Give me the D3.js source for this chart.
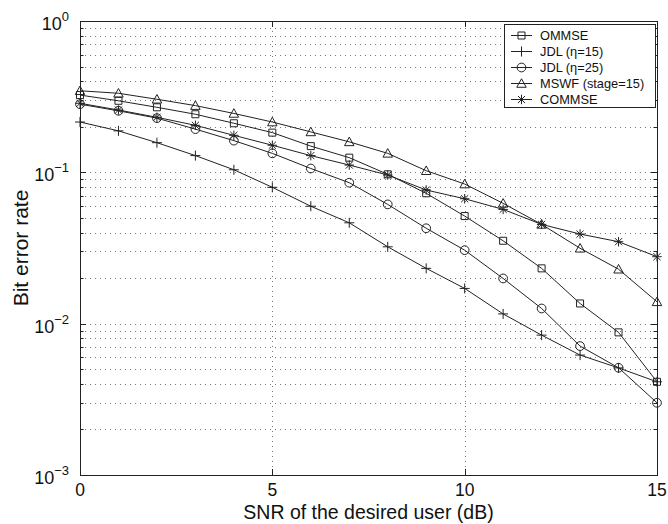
<!DOCTYPE html>
<html>
<head>
<meta charset="utf-8">
<script src="https://cdn.jsdelivr.net/npm/d3@7"></script>
<style>
  html, body { margin: 0; padding: 0; background: #fff; }
  svg { display: block; font-family: "Liberation Sans", Arial, Helvetica, sans-serif; }
</style>
</head>
<body>
<svg id="chart" width="668" height="524"></svg>
<script>
// SNR values (dB)
const snr = [0, 1, 2, 3, 4, 5, 6, 7, 8, 9, 10, 11, 12, 13, 14, 15];

// Bit error rate for each receiver
const ommse   = [0.324, 0.297, 0.269, 0.242, 0.211, 0.183, 0.149, 0.125, 0.097, 0.0727, 0.0514, 0.0353, 0.0232, 0.0136, 0.00876, 0.00413];
const jdl15   = [0.215, 0.188, 0.157, 0.129, 0.104, 0.0796, 0.0597, 0.0464, 0.0322, 0.0232, 0.0171, 0.0116, 0.0084, 0.0062, 0.0051, 0.00413];
const jdl25   = [0.282, 0.255, 0.228, 0.193, 0.162, 0.1335, 0.106, 0.0854, 0.0614, 0.0427, 0.0306, 0.0199, 0.0126, 0.00711, 0.00511, 0.0030];
const mswf    = [0.346, 0.333, 0.304, 0.276, 0.245, 0.215, 0.185, 0.159, 0.1335, 0.1025, 0.0837, 0.0624, 0.0453, 0.0315, 0.0229, 0.01395];
const commse  = [0.286, 0.258, 0.231, 0.2045, 0.1756, 0.151, 0.129, 0.1117, 0.096, 0.0764, 0.0669, 0.0569, 0.0453, 0.0391, 0.0348, 0.0277];

const seriesNames = ["OMMSE", "JDL (η=15)", "JDL (η=25)", "MSWF (stage=15)", "COMMSE"];
const seriesValues = [ommse, jdl15, jdl25, mswf, commse];
const seriesMarkers = ["square", "plus", "circle", "triangle", "star"];

const xTicks = [0, 5, 10, 15];
const yDecades = [0, -1, -2, -3];
const xLabel = "SNR of the desired user (dB)";
const yLabel = "Bit error rate";

// Plot area bounds
const pLeft = 80, pRight = 657, pTop = 21, pBottom = 475;

const svg = d3.select("#chart");
const x = d3.scaleLinear().domain([0, 15]).range([pLeft, pRight]);
const y = d3.scaleLog().domain([1e-3, 1]).range([pBottom, pTop]);

// Minor log positions for grid and ticks
const minorVals = [];
for (let e = -3; e < 0; e++) {
  for (let m = 1; m <= 9; m++) minorVals.push(m * Math.pow(10, e));
}
minorVals.push(1);

// Grid: dotted horizontal lines at every log step, vertical at major x ticks
const grid = svg.append("g").attr("stroke", "#777").attr("stroke-width", 1)
  .attr("stroke-dasharray", "1,4").attr("fill", "none");
grid.selectAll("line.h").data(minorVals.filter(v => v > 1e-3 && v < 1)).join("line")
  .attr("x1", pLeft).attr("x2", pRight)
  .attr("y1", d => Math.round(y(d)) + 0.5).attr("y2", d => Math.round(y(d)) + 0.5);
grid.selectAll("line.v").data(xTicks.filter(d => d > 0 && d < 15)).join("line")
  .attr("x1", d => Math.round(x(d)) + 0.5).attr("x2", d => Math.round(x(d)) + 0.5)
  .attr("y1", pTop).attr("y2", pBottom);

// Tick marks (inside, on all four sides)
const ticks = svg.append("g").attr("stroke", "#222").attr("stroke-width", 1);
minorVals.forEach(v => {
  const isMajor = Math.abs(Math.log10(v) - Math.round(Math.log10(v))) < 1e-9;
  const len = isMajor ? 6 : 3.5;
  const yy = Math.round(y(v)) + 0.5;
  ticks.append("line").attr("x1", pLeft).attr("x2", pLeft + len).attr("y1", yy).attr("y2", yy);
  ticks.append("line").attr("x1", pRight - len).attr("x2", pRight).attr("y1", yy).attr("y2", yy);
});
xTicks.forEach(t => {
  const xx = Math.round(x(t)) + 0.5;
  ticks.append("line").attr("x1", xx).attr("x2", xx).attr("y1", pBottom - 6).attr("y2", pBottom);
  ticks.append("line").attr("x1", xx).attr("x2", xx).attr("y1", pTop).attr("y2", pTop + 6);
});

// Frame
svg.append("rect").attr("x", pLeft + 0.5).attr("y", pTop + 0.5)
  .attr("width", pRight - pLeft).attr("height", pBottom - pTop)
  .attr("fill", "none").attr("stroke", "#222").attr("stroke-width", 1);

// X tick labels
svg.append("g").selectAll("text").data(xTicks).join("text")
  .attr("x", d => x(d)).attr("y", pBottom + 21)
  .attr("text-anchor", "middle").attr("font-size", 17.5).attr("fill", "#111")
  .text(d => d);

// Y tick labels as 10 with a superscript exponent
const yl = svg.append("g");
yDecades.forEach(e => {
  const t = yl.append("text").attr("x", 69).attr("y", y(Math.pow(10, e)) + 9)
    .attr("text-anchor", "end").attr("fill", "#111").attr("font-size", 18);
  t.append("tspan").text("10");
  t.append("tspan").attr("font-size", 13).attr("dy", -9).text(e === 0 ? "0" : "−" + (-e));
});

// Axis titles
svg.append("text").attr("x", (pLeft + pRight) / 2).attr("y", 519)
  .attr("text-anchor", "middle").attr("font-size", 19.5).attr("fill", "#111").text(xLabel);
svg.append("text").attr("transform", `translate(28,${(pTop + pBottom) / 2}) rotate(-90)`)
  .attr("text-anchor", "middle").attr("font-size", 21).attr("fill", "#111").text(yLabel);

// Marker shapes
const plusType = { draw(ctx, size) { const r = Math.sqrt(size) / 2;
  ctx.moveTo(-r, 0); ctx.lineTo(r, 0); ctx.moveTo(0, -r); ctx.lineTo(0, r); } };
const starType = { draw(ctx, size) { const r = Math.sqrt(size) / 2;
  ctx.moveTo(-r, 0); ctx.lineTo(r, 0); ctx.moveTo(0, -r); ctx.lineTo(0, r);
  const d = r * 0.75; ctx.moveTo(-d, -d); ctx.lineTo(d, d); ctx.moveTo(-d, d); ctx.lineTo(d, -d); } };
const triType = { draw(ctx, size) { const r = Math.sqrt(size) / 2;
  ctx.moveTo(0, -r); ctx.lineTo(r, r * 0.8); ctx.lineTo(-r, r * 0.8); ctx.closePath(); } };
const markerPath = {
  square: d3.symbol().type(d3.symbolSquare).size(49)(),
  plus: d3.symbol().type(plusType).size(100)(),
  circle: d3.symbol().type(d3.symbolCircle).size(60)(),
  triangle: d3.symbol().type(triType).size(90)(),
  star: d3.symbol().type(starType).size(90)()
};

// Series lines and markers
const line = d3.line().x((d, i) => x(snr[i])).y(d => y(d));
const plot = svg.append("g");
seriesValues.forEach((vals, k) => {
  plot.append("path").datum(vals).attr("d", line)
    .attr("fill", "none").attr("stroke", "#222").attr("stroke-width", 1);
  plot.append("g").selectAll("path").data(vals).join("path")
    .attr("transform", (d, i) => `translate(${x(snr[i])},${y(d)})`)
    .attr("d", markerPath[seriesMarkers[k]])
    .attr("fill", "none").attr("stroke", "#222").attr("stroke-width", 1);
});

// Legend
const lg = svg.append("g");
lg.append("rect").attr("x", 504.5).attr("y", 24.5).attr("width", 151).attr("height", 83)
  .attr("fill", "#fff").attr("stroke", "#222").attr("stroke-width", 1);
seriesNames.forEach((name, k) => {
  const cy = 35.5 + k * 16;
  lg.append("line").attr("x1", 511).attr("x2", 532).attr("y1", cy).attr("y2", cy)
    .attr("stroke", "#222").attr("stroke-width", 1);
  lg.append("path").attr("transform", `translate(521.5,${cy})`)
    .attr("d", markerPath[seriesMarkers[k]])
    .attr("fill", "none").attr("stroke", "#222").attr("stroke-width", 1);
  lg.append("text").attr("x", 540).attr("y", cy + 4.5).attr("font-size", 12.8)
    .attr("fill", "#111").text(name);
});
</script>
</body>
</html>
